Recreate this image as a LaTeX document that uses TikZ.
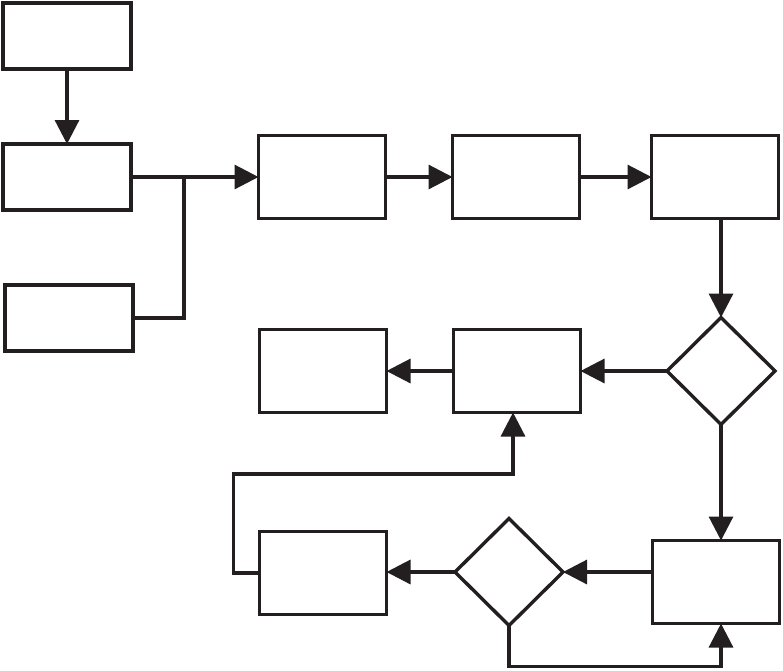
\documentclass[tikz,border=0pt]{standalone}
\usetikzlibrary{shapes.geometric,arrows.meta}
\definecolor{ink}{HTML}{231F20}
\begin{document}
\begin{tikzpicture}[x=1pt,y=-1pt,
  box/.style={draw=ink, line width=3.6pt, inner sep=0pt, outer sep=0pt,
    minimum width=128pt, minimum height=66pt},
  tallbox/.style={box, minimum width=127pt, minimum height=83pt},
  decision/.style={draw=ink, diamond, line width=3.4pt, inner sep=0pt, outer sep=0pt,
    minimum width=108pt, minimum height=107pt},
  link/.style={draw=ink, line width=3.2pt},
  arr/.style={link, -{Triangle[length=24pt,width=24pt]}}]

  \useasboundingbox (0,0) rectangle (783,670);

  \node[box] (A) at (67,36)  {};
  \node[box] (B) at (67,177) {};
  \node[box] (C) at (69,318) {};

  \node[tallbox] (D) at (322,177) {};
  \node[tallbox] (E) at (516,177) {};
  \node[tallbox] (F) at (715,177) {};

  \node[decision] (G) at (721,371) {};
  \node[tallbox]  (H) at (517,371) {};
  \node[tallbox]  (I) at (323,371) {};

  \node[tallbox]  (J) at (716,582) {};
  \node[decision] (K) at (509,572) {};
  \node[tallbox]  (L) at (323,573) {};

  \coordinate (join) at (184,177);

  % Arrows
  \draw[arr]  (A) -- (B);
  \draw[arr]  (B.east) -- (D.west);
  \draw[link] (C.east) -| (join);
  \draw[arr]  (D) -- (E);
  \draw[arr]  (E) -- (F);
  \draw[arr]  (G.north |- F.south) -- (G.north);
  \draw[arr]  (G.west) -- (H.east);
  \draw[arr]  (H.west) -- (I.east |- H.west);
  \draw[arr]  (G.south) -- (G.south |- J.north);
  \draw[arr]  (K.east -| J.west) -- (K.east);
  \draw[arr]  (K.west) -- (L.east |- K.west);

  % Loops
  \draw[arr]  (L.west) -- ++(-26,0) -- ++(0,-99) -| ([xshift=-4pt]H.south);
  \draw[arr]  (K.south) -- ++(0,41) -| (G.south |- J.south);

\end{tikzpicture}
\end{document}
